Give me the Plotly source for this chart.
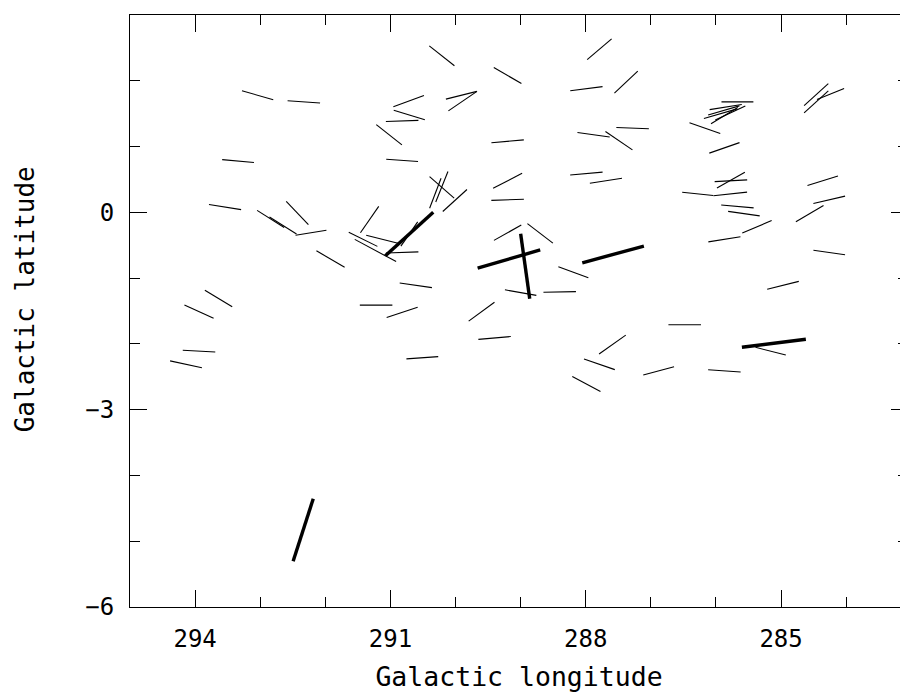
import numpy as np
import plotly.graph_objects as go

# Polarization vectors: centre (l, b) in degrees, vector length (deg), position angle (deg, from +b toward +l)
l_thin = [293.04, 292.33, 293.34, 293.54, 292.84, 292.65, 292.43, 292.22, 291.32, 291.92,
          291.42, 291.23, 291.12, 290.82, 290.71, 293.64, 293.94, 293.94, 294.14, 291.22,
          290.82, 290.51, 290.61, 289.20, 288.70, 288.19, 289.00, 288.40, 289.60, 289.40,
          287.59, 287.79, 287.99, 285.57, 285.37, 284.56, 285.87, 284.26, 284.97, 286.48,
          285.16, 286.88, 285.87, 290.21, 289.20, 287.79, 287.38, 287.99, 290.72, 290.71,
          289.91, 289.89, 290.82, 291.02, 289.20, 287.88, 287.49, 287.28, 290.82, 287.99,
          287.69, 289.20, 289.20, 290.21, 290.31, 290.21, 290.01, 285.67, 285.85, 285.93,
          285.88, 285.87, 285.78, 286.17, 285.87, 284.46, 284.46, 284.24, 285.77, 285.77,
          286.28, 285.78, 285.67, 284.36, 284.26]
b_thin = [1.78, 1.68, 0.78, 0.08, -0.10, -0.20, -0.01, -0.31, -0.11, -0.71,
          -0.41, -0.58, -0.41, -0.61, -0.33, -1.31, -1.51, -2.11, -2.31, -1.41,
          -1.52, -2.21, -1.11, -0.31, -0.32, -0.91, -1.22, -1.21, -1.51, -1.91,
          -2.01, -2.31, -2.61, -0.02, -0.22, -0.02, -0.41, -0.61, -1.11, -1.71,
          -2.11, -2.41, -2.41, 2.38, 2.08, 2.48, 1.98, 1.88, 1.69, 1.48,
          1.78, 1.69, 1.39, 1.18, 1.08, 1.18, 1.09, 1.28, 0.79, 0.59,
          0.48, 0.48, 0.19, 0.38, 0.29, 0.39, 0.18, 1.68, 1.60, 1.50,
          1.55, 1.47, 1.51, 1.28, 0.98, 1.79, 1.68, 1.80, 0.48, 0.49,
          0.28, 0.28, 0.09, 0.48, 0.19]
len_thin = [0.50, 0.50, 0.49, 0.50, 0.49, 0.49, 0.49, 0.48, 0.49, 0.50,
            0.49, 0.72, 0.52, 0.50, 0.45, 0.49, 0.49, 0.50, 0.50, 0.50,
            0.50, 0.49, 0.50, 0.48, 0.49, 0.49, 0.49, 0.50, 0.49, 0.50,
            0.50, 0.50, 0.49, 0.49, 0.49, 0.49, 0.50, 0.49, 0.50, 0.50,
            0.48, 0.49, 0.50, 0.49, 0.49, 0.49, 0.49, 0.50, 0.50, 0.50,
            0.49, 0.53, 0.50, 0.50, 0.50, 0.50, 0.50, 0.50, 0.49, 0.50,
            0.50, 0.50, 0.50, 0.50, 0.49, 0.50, 0.50, 0.49, 0.50, 0.53,
            0.50, 0.48, 0.51, 0.50, 0.49, 0.50, 0.50, 0.45, 0.50, 0.49,
            0.48, 0.52, 0.50, 0.49, 0.50]
pa_thin = [74, 86, 85, 81, 58, 58, 44, -81, -35, 60,
           64, 62, 76, -88, -35, 59, 66, 87, 78, 90,
           -72, -86, 82, -61, 53, 70, 80, -89, -54, -85,
           -55, 71, 62, 82, -67, -60, -81, 82, -76, 90,
           76, -75, 86, 52, 60, -50, -47, -83, -70, 73,
           -76, -56, -88, 52, -85, 82, 56, 88, 86, -85,
           -81, -63, -88, 49, -21, -22, -48, 90, -81, -74,
           -74, -59, -65, 71, -71, -48, -48, -68, -87, -61,
           84, -84, 85, -73, -77]

# Strongly polarized vectors
l_thick = [290.71, 288.93, 289.18, 287.58, 285.11, 292.34]
b_thick = [-0.33, -0.82, -0.71, -0.64, -1.99, -4.83]
len_thick = [0.99, 1.00, 1.00, 0.98, 0.99, 1.00]
pa_thick = [-48, 8, -74, -75, -83, -18]

x_ticks = [294, 291, 288, 285]
y_ticks = [-6, -3, 0, 3]
y_tick_text = ["−6", "−3", "0", "3"]


def segments(l, b, length, pa):
    l = np.asarray(l, float)
    b = np.asarray(b, float)
    h = 0.5 * np.asarray(length, float)
    a = np.radians(np.asarray(pa, float))
    dl = h * np.sin(a)
    db = h * np.cos(a)
    xs, ys = [], []
    for i in range(len(l)):
        xs += [l[i] + dl[i], l[i] - dl[i], None]
        ys += [b[i] + db[i], b[i] - db[i], None]
    return xs, ys


fig = go.Figure()
xt, yt = segments(l_thin, b_thin, len_thin, pa_thin)
fig.add_trace(go.Scatter(x=xt, y=yt, mode="lines",
                         line=dict(color="black", width=1.1), hoverinfo="skip"))
xk, yk = segments(l_thick, b_thick, len_thick, pa_thick)
fig.add_trace(go.Scatter(x=xk, y=yk, mode="lines",
                         line=dict(color="black", width=3.4), hoverinfo="skip"))

font_fam = "DejaVu Sans Mono"
axis_common = dict(
    showline=True, linecolor="black", linewidth=1, mirror="ticks",
    ticks="inside", ticklen=17, tickwidth=1, tickcolor="black",
    showgrid=False, zeroline=False,
    tickfont=dict(family=font_fam, size=24, color="black"),
    minor=dict(ticks="inside", ticklen=10, tickwidth=1, tickcolor="black",
               dtick=1, tick0=0, showgrid=False),
)

fig.update_layout(
    width=900, height=688,
    margin=dict(l=122, r=0, t=7, b=89),
    paper_bgcolor="white", plot_bgcolor="white",
    showlegend=False,
    xaxis=dict(range=[295, 283.05], tickvals=x_ticks,
               ticktext=[str(v) for v in x_ticks],
               title=dict(text="Galactic longitude",
                          font=dict(family=font_fam, size=26.5, color="black"),
                          standoff=15),
               ticklabelstandoff=10, **axis_common),
    yaxis=dict(range=[-6, 3], tickvals=y_ticks, ticktext=y_tick_text,
               ticklabelstandoff=10, **axis_common),
    annotations=[dict(text="Galactic latitude", xref="paper", yref="paper",
                      x=-0.1355, y=0.519, xanchor="center", yanchor="middle",
                      textangle=-90, showarrow=False,
                      font=dict(family=font_fam, size=26, color="black"))],
)

fig.write_html("out.html")
